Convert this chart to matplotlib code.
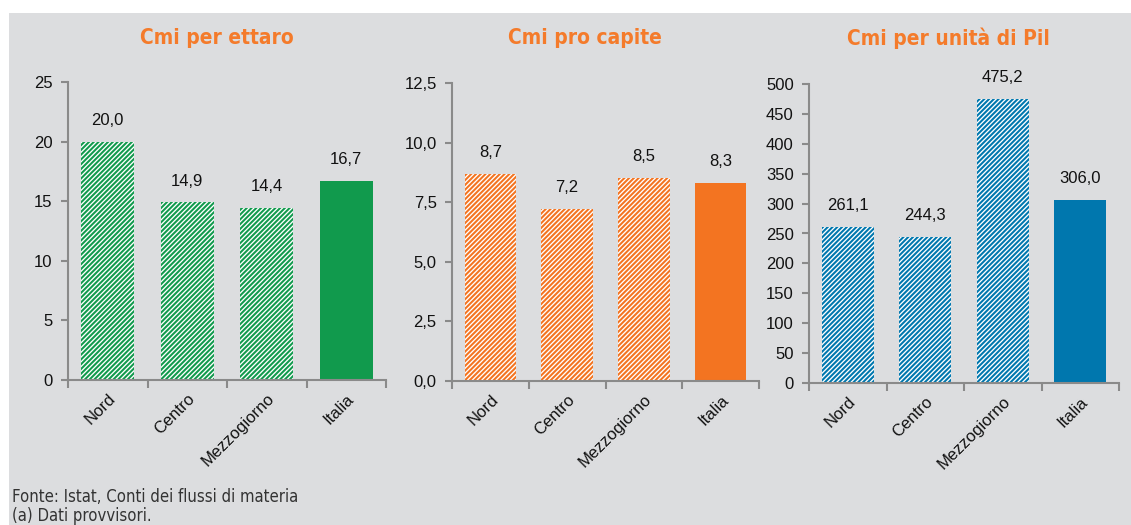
import matplotlib
matplotlib.use("Agg")
import matplotlib.pyplot as plt
from matplotlib.patches import Rectangle

categories = ["Nord", "Centro", "Mezzogiorno", "Italia"]
cmi_ettaro = [20.0, 14.9, 14.4, 16.7]
cmi_capite = [8.7, 7.2, 8.5, 8.3]
cmi_pil = [261.1, 244.3, 475.2, 306.0]

titles = ["Cmi per ettaro", "Cmi pro capite", "Cmi per unità di Pil"]
yticks_ettaro = [0, 5, 10, 15, 20, 25]
yticks_capite = [0.0, 2.5, 5.0, 7.5, 10.0, 12.5]
yticks_pil = [0, 50, 100, 150, 200, 250, 300, 350, 400, 450, 500]

green = "#119A4D"
orange = "#F37421"
blue = "#0077AE"
bg = "#DCDDDF"
axis_gray = "#8A8A8A"
title_color = "#F47B2B"

plt.rcParams["font.family"] = ["Liberation Sans", "DejaVu Sans"]
plt.rcParams["hatch.linewidth"] = 0.95

fig = plt.figure(figsize=(11.31, 5.25), dpi=100)
fig.patch.set_facecolor("white")
# pannello grigio di sfondo
fig.patches.append(Rectangle((9 / 1131, 0), 1 - 9 / 1131, 1 - 13 / 525,
                             transform=fig.transFigure, facecolor=bg,
                             edgecolor="none", zorder=-10))

positions = [
    [68 / 1131, 145 / 525, 318 / 1131, 298 / 525],
    [452 / 1131, 144 / 525, 307 / 1131, 298 / 525],
    [809 / 1131, 142 / 525, 310 / 1131, 299 / 525],
]
series = [cmi_ettaro, cmi_capite, cmi_pil]
colors = [green, orange, blue]
ticks = [yticks_ettaro, yticks_capite, yticks_pil]
tick_fmt = ["{:.0f}", "{:.1f}", "{:.0f}"]
title_x = [217, 585, 948]

for i in range(3):
    ax = fig.add_axes(positions[i])
    ax.set_facecolor("none")
    vals = series[i]
    x = list(range(len(categories)))
    for j, v in enumerate(vals):
        if j < 3:  # ripartizioni tratteggiate, Italia piena
            ax.bar(j, v, width=0.67, color=colors[i], edgecolor="white",
                   linewidth=0, hatch="///////")
        else:
            ax.bar(j, v, width=0.67, color=colors[i], linewidth=0)
        ax.annotate(f"{v:.1f}".replace(".", ","), (j, v),
                    xytext=(0, 10), textcoords="offset points",
                    ha="center", va="bottom", fontsize=12, color="#111111")
    ax.set_xlim(-0.5, 3.5)
    ax.set_ylim(0, ticks[i][-1])
    ax.set_yticks(ticks[i])
    ax.set_yticklabels([tick_fmt[i].format(t).replace(".", ",") for t in ticks[i]],
                       fontsize=12, color="#111111")
    ax.set_xticks([-0.5, 0.5, 1.5, 2.5, 3.5])
    ax.set_xticklabels([])
    ax.set_xticks(x, minor=True)
    ax.set_xticklabels(categories, minor=True, rotation=45, ha="right",
                       rotation_mode="anchor", fontsize=12, color="#111111")
    ax.tick_params(axis="x", which="minor", length=0, pad=8)
    ax.tick_params(axis="x", which="major", length=6, width=1.5, color=axis_gray)
    ax.tick_params(axis="y", length=5, width=1.5, color=axis_gray, pad=6)
    for s in ["top", "right"]:
        ax.spines[s].set_visible(False)
    for s in ["left", "bottom"]:
        ax.spines[s].set_color(axis_gray)
        ax.spines[s].set_linewidth(1.5)
    fig.text(title_x[i] / 1131, 1 - 38 / 525, titles[i], ha="center", va="center",
             fontsize=15, fontweight="bold", fontstretch="condensed",
             family="DejaVu Sans", color=title_color)

fig.text(12 / 1131, 1 - 497 / 525, "Fonte: Istat, Conti dei flussi di materia",
         ha="left", va="center", fontsize=12, fontstretch="condensed",
         family="DejaVu Sans", color="#333333")
fig.text(12 / 1131, 1 - 516 / 525, "(a) Dati provvisori.",
         ha="left", va="center", fontsize=12, fontstretch="condensed",
         family="DejaVu Sans", color="#333333")

fig.savefig("out.png", dpi=100, facecolor=fig.get_facecolor())
